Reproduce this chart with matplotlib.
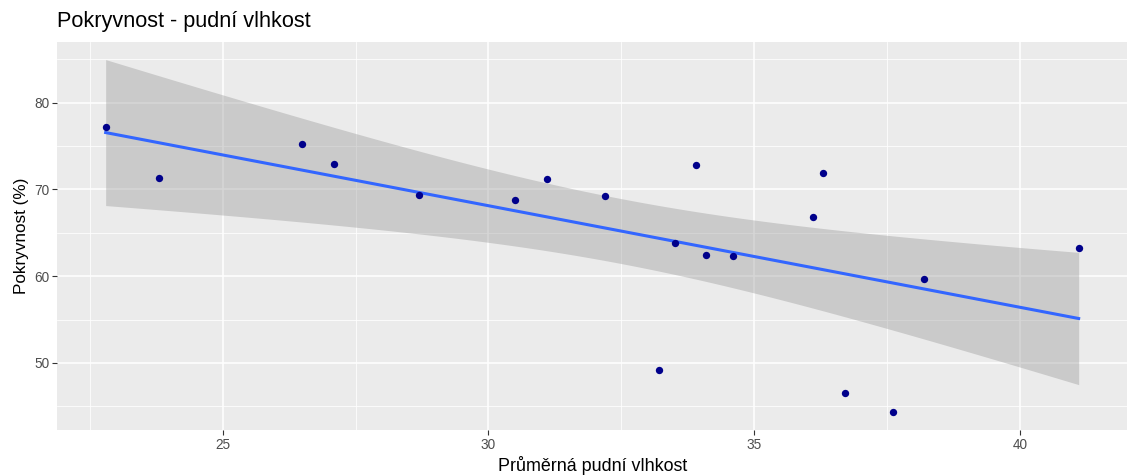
import numpy as np
import matplotlib
matplotlib.use("Agg")
import matplotlib.pyplot as plt
from matplotlib.ticker import MultipleLocator

# data
vlhkost = [22.8, 23.8, 26.5, 27.1, 28.7, 30.5, 31.1, 32.2, 33.2, 33.5,
           33.9, 34.1, 34.6, 36.1, 36.3, 36.7, 37.6, 38.2, 41.1]
pokryvnost = [77.2, 71.3, 75.3, 72.9, 69.4, 68.8, 71.2, 69.2, 49.2, 63.8,
              72.8, 62.4, 62.3, 66.8, 71.9, 46.5, 44.3, 59.7, 63.2]

title = "Pokryvnost - pudní vlhkost"
xlabel = "Průměrná pudní vlhkost"
ylabel = "Pokryvnost (%)"

plt.rcParams['font.family'] = ['Liberation Sans', 'DejaVu Sans']

x = np.array(vlhkost)
y = np.array(pokryvnost)
n = len(x)

# linear fit + 95% confidence band (like geom_smooth(method="lm"))
b1, b0 = np.polyfit(x, y, 1)
xs = np.linspace(x.min(), x.max(), 200)
ys = b0 + b1 * xs
resid = y - (b0 + b1 * x)
s = np.sqrt(np.sum(resid ** 2) / (n - 2))
sxx = np.sum((x - x.mean()) ** 2)
t = 2.1098  # t(0.975, df=17)
se = s * np.sqrt(1 / n + (xs - x.mean()) ** 2 / sxx)
lo = ys - t * se
hi = ys + t * se

fig = plt.figure(figsize=(11.29, 4.75), dpi=100)
ax = fig.add_axes([0.0505, 0.0947, 0.948, 0.817])
ax.set_facecolor("#EBEBEB")

ax.fill_between(xs, lo, hi, color="#999999", alpha=0.4, linewidth=0, zorder=2)
ax.plot(xs, ys, color="#3366FF", linewidth=2.2, zorder=3)
ax.scatter(x, y, s=28, color="#00008B", zorder=4, linewidths=0)

# ggplot-like limits (5% expansion)
xr = x.max() - x.min()
ax.set_xlim(x.min() - 0.05 * xr, x.max() + 0.05 * xr)
ymin = min(y.min(), lo.min())
ymax = max(y.max(), hi.max())
yr = ymax - ymin
ax.set_ylim(ymin - 0.05 * yr, ymax + 0.05 * yr)

ax.xaxis.set_major_locator(MultipleLocator(5))
ax.xaxis.set_minor_locator(MultipleLocator(2.5))
ax.yaxis.set_major_locator(MultipleLocator(10))
ax.yaxis.set_minor_locator(MultipleLocator(5))

ax.grid(which="major", color="white", linewidth=1.1, zorder=0)
ax.grid(which="minor", color="white", linewidth=0.55, zorder=0)
ax.set_axisbelow(True)
for sp in ax.spines.values():
    sp.set_visible(False)

ax.tick_params(which="major", length=3.5, width=0.8, color="#333333",
               labelcolor="#4D4D4D", labelsize=9.8, pad=2)
ax.tick_params(which="minor", length=0)

ax.set_xlabel(xlabel, fontsize=12.9, color="black", labelpad=3)
ax.set_ylabel(ylabel, fontsize=12.3, color="black", labelpad=4)
ax.set_title(title, loc="left", fontsize=15.6, color="black", pad=10.4)

fig.savefig("out.png", dpi=100)
